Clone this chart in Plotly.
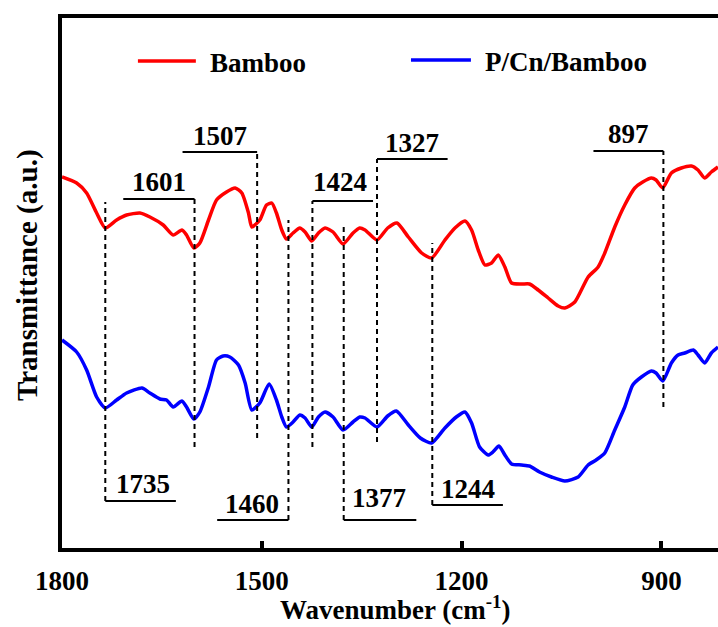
import plotly.graph_objects as go

# FTIR spectra (arbitrary transmittance units, offset for clarity)
wavenumber_bamboo = [1800, 1778, 1763, 1748, 1735, 1718, 1703, 1683, 1668, 1648, 1633, 1620, 1613,
                     1602, 1593, 1580, 1568, 1553, 1540, 1530, 1520, 1515, 1503, 1493, 1485, 1478,
                     1470, 1463, 1453, 1443, 1435, 1425, 1415, 1405, 1393, 1378, 1363, 1353, 1345,
                     1327, 1311, 1297, 1280, 1260, 1245, 1225, 1210, 1195, 1185, 1175, 1165, 1155,
                     1145, 1135, 1125, 1110, 1098, 1085, 1070, 1055, 1045, 1030, 1010, 995, 985,
                     970, 955, 940, 928, 915, 908, 898, 885, 870, 855, 845, 835, 825, 815]
transmittance_bamboo = [371, 365, 355, 335, 320, 328, 333, 335, 331, 323, 313, 318, 313,
                        300, 305, 328, 348, 356, 360, 355, 335, 321, 328, 343, 345, 335,
                        318, 309, 315, 320, 316, 307, 315, 320, 316, 304, 315, 320, 318,
                        308, 320, 325, 311, 295, 290, 308, 320, 327, 318, 298, 283, 285,
                        293, 281, 265, 264, 264, 258, 250, 242, 240, 246, 271, 281, 295,
                        321, 343, 360, 366, 370, 368, 360, 375, 380, 382, 378, 370, 376, 381]

wavenumber_pcn = [1800, 1778, 1763, 1748, 1735, 1718, 1703, 1680, 1668, 1653, 1643, 1633, 1620,
                  1613, 1602, 1593, 1580, 1568, 1558, 1548, 1535, 1525, 1515, 1503, 1489, 1478,
                  1470, 1463, 1453, 1443, 1435, 1425, 1415, 1405, 1393, 1378, 1363, 1353, 1345,
                  1327, 1311, 1298, 1280, 1262, 1245, 1225, 1208, 1195, 1185, 1173, 1160, 1153,
                  1144, 1135, 1125, 1110, 1098, 1083, 1065, 1045, 1025, 1010, 998, 985, 970,
                  955, 943, 930, 915, 908, 898, 885, 875, 865, 852, 845, 835, 825, 815]
transmittance_pcn = [208, 196, 178, 151, 140, 148, 155, 160, 155, 149, 148, 141, 147,
                     141, 129, 136, 161, 188, 192, 191, 183, 165, 138, 145, 164, 148,
                     131, 121, 126, 133, 130, 121, 131, 136, 131, 118, 126, 131, 130,
                     121, 132, 137, 123, 110, 105, 120, 131, 136, 125, 101, 93, 96,
                     102, 93, 84, 83, 82, 76, 71, 67, 71, 83, 88, 95, 118,
                     141, 163, 171, 177, 175, 167, 185, 193, 195, 198, 193, 185, 195, 201]

series_names = ["Bamboo", "P/Cn/Bamboo"]
series_colors = ["#ff0000", "#0000ff"]

# Assigned absorption bands
band_positions = [1735, 1601, 1507, 1460, 1424, 1377, 1327, 1244, 897]
band_labels = ["1735", "1601", "1507", "1460", "1424", "1377", "1327", "1244", "897"]

x_tick_values = [1800, 1500, 1200, 900]
x_tick_labels = ["1800", "1500", "1200", "900"]

# Marker geometry for each band: dashed guide from y_top to y_bottom,
# bracket drawn at y_bracket out to x_far, label centred at (x_label, y_label)
band_geometry = {
    1735: dict(y_top=346, y_bottom=47, y_bracket=47, x_far=1629, x_label=1679, y_label=64),
    1601: dict(y_top=349, y_bottom=101, y_bracket=349, x_far=1708, x_label=1654, y_label=366),
    1507: dict(y_top=396, y_bottom=110, y_bracket=396, x_far=1619, x_label=1563, y_label=412),
    1460: dict(y_top=328, y_bottom=28, y_bracket=28, x_far=1567, x_label=1515, y_label=44),
    1424: dict(y_top=347, y_bottom=101, y_bracket=347, x_far=1333, x_label=1383, y_label=366),
    1377: dict(y_top=323, y_bottom=28, y_bracket=28, x_far=1268, x_label=1324, y_label=50),
    1327: dict(y_top=389, y_bottom=106, y_bracket=389, x_far=1221, x_label=1274, y_label=405),
    1244: dict(y_top=305, y_bottom=43, y_bracket=43, x_far=1138, x_label=1190, y_label=59),
    897: dict(y_top=397, y_bottom=141, y_bracket=397, x_far=1002, x_label=949, y_label=414),
}

FONT = "Liberation Serif, Times New Roman, Times, serif"


def bold_font(size):
    return dict(family=FONT, size=size, color="black", weight="bold")


fig = go.Figure()
for wn, tr, name, color in [
    (wavenumber_bamboo, transmittance_bamboo, series_names[0], series_colors[0]),
    (wavenumber_pcn, transmittance_pcn, series_names[1], series_colors[1]),
]:
    fig.add_trace(go.Scatter(
        x=wn, y=tr, mode="lines", name=name,
        line=dict(color=color, width=3.5, shape="spline", smoothing=0.6),
        showlegend=False,
    ))

shapes = []
annotations = []
for pos, label in zip(band_positions, band_labels):
    g = band_geometry[pos]
    shapes.append(dict(type="line", xref="x", yref="y", x0=pos, x1=pos,
                       y0=g["y_bottom"], y1=g["y_top"],
                       line=dict(color="black", width=2, dash="5px,4px")))
    shapes.append(dict(type="line", xref="x", yref="y", x0=pos, x1=g["x_far"],
                       y0=g["y_bracket"], y1=g["y_bracket"],
                       line=dict(color="black", width=2)))
    annotations.append(dict(x=g["x_label"], y=g["y_label"], xref="x", yref="y",
                            text=label, showarrow=False, xanchor="center", yanchor="middle",
                            font=bold_font(27)))

# Legend drawn as line swatches with labels
legend_items = [
    (series_names[0], series_colors[0], 1686, 1599, 1581, 487),
    (series_names[1], series_colors[1], 1276, 1186, 1168, 488),
]
for name, color, sx0, sx1, tx, ly in legend_items:
    shapes.append(dict(type="line", xref="x", yref="y", x0=sx0, x1=sx1, y0=ly, y1=ly,
                       line=dict(color=color, width=3.5)))
    annotations.append(dict(x=tx, y=ly - 1.5, xref="x", yref="y", text=name, showarrow=False,
                            xanchor="left", yanchor="middle", font=bold_font(27)))

# Axis titles
annotations.append(dict(x=0.5076, y=-0.147, xref="paper", yref="paper",
                        text="Wavenumber (cm<sup>-1</sup>)", showarrow=False,
                        xanchor="center", yanchor="bottom", borderpad=0,
                        font=bold_font(27)))
annotations.append(dict(x=-0.0534, y=0.515, xref="paper", yref="paper",
                        text="Transmittance (a.u.)", showarrow=False, textangle=-90,
                        xanchor="center", yanchor="middle", font=bold_font(29)))

fig.update_layout(
    width=718, height=627,
    margin=dict(l=62, r=0, t=18, b=79),
    paper_bgcolor="white", plot_bgcolor="white",
    font=dict(family=FONT),
    shapes=shapes, annotations=annotations,
    showlegend=False,
)
fig.update_xaxes(
    range=[1800, 815], tickvals=x_tick_values, ticktext=x_tick_labels,
    ticks="inside", ticklen=7, tickwidth=3.5, tickcolor="black",
    showline=True, linewidth=3.5, linecolor="black", mirror=True,
    showgrid=False, zeroline=False, ticklabelstandoff=6,
    tickfont=bold_font(27),
)
fig.update_yaxes(
    range=[0, 530], showticklabels=False, ticks="",
    showline=True, linewidth=3.5, linecolor="black", mirror=False,
    showgrid=False, zeroline=False,
)

fig.write_html("out.html")
